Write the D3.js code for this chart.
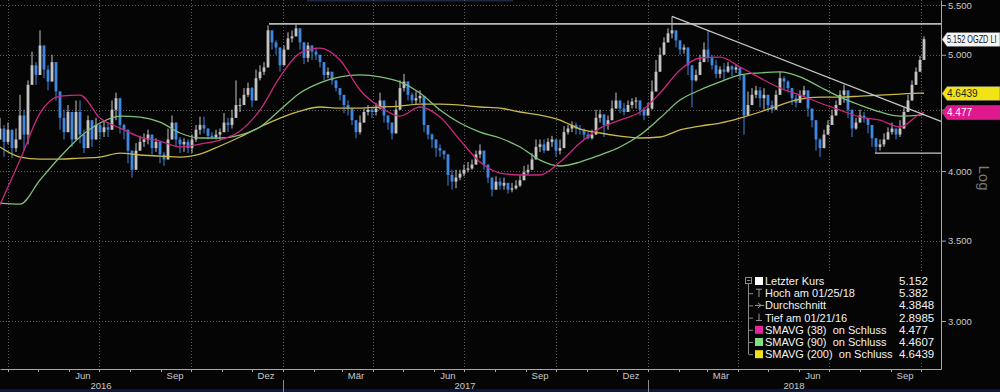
<!DOCTYPE html>
<html><head><meta charset="utf-8">
<script src="https://cdn.jsdelivr.net/npm/d3@7"></script>
<style>html,body{margin:0;padding:0;background:#050505;overflow:hidden}</style>
</head><body><svg id="c" width="1000" height="392"></svg>
<script>
// ---------------- DATA ----------------
const candleStart = "2016-03-24";
const candleStepDays = 4;
const firstOpen = 4.25;
const closeValues = [
4.34,4.23,4.33,4.18,4.25,4.45,4.29,4.72,4.90,4.81,5.09,4.86,4.75,4.93,4.66,4.43,4.31,4.48,4.25,4.48,4.29,4.18,4.41,4.25,4.37,4.31,4.35,4.33,4.50,4.60,4.37,4.33,4.16,4.01,4.16,4.23,4.25,4.29,4.18,4.23,4.13,4.09,4.25,4.39,4.25,4.21,4.23,4.18,
4.25,4.33,4.37,4.34,4.28,4.27,4.29,4.31,4.39,4.37,4.43,4.54,4.54,4.63,4.69,4.58,4.78,4.84,4.88,5.24,5.12,5.07,4.90,5.05,5.16,5.18,5.26,5.12,4.97,5.09,5.03,5.00,4.93,4.81,4.84,4.76,4.69,4.63,4.54,4.51,4.41,4.31,4.39,4.48,4.50,4.48,4.51,
4.58,4.45,4.39,4.30,4.50,4.69,4.75,4.63,4.58,4.60,4.62,4.37,4.29,4.25,4.18,4.16,4.13,3.97,3.92,3.95,3.98,4.01,4.02,4.05,4.13,4.16,4.05,3.95,3.86,3.92,3.89,3.91,3.86,3.87,3.89,3.93,3.99,4.01,4.09,4.19,4.21,4.16,4.23,4.25,4.16,4.18,4.31,4.34,
4.37,4.34,4.33,4.29,4.26,4.29,4.43,4.46,4.37,4.41,4.51,4.58,4.51,4.48,4.54,4.57,4.58,4.50,4.45,4.51,4.66,4.84,5.00,5.12,5.21,5.24,5.14,5.05,5.07,4.90,4.76,4.81,4.93,5.05,4.97,4.90,4.82,4.86,4.84,4.89,4.86,4.88,4.81,4.45,4.54,4.63,4.67,
4.60,4.63,4.54,4.50,4.63,4.78,4.75,4.69,4.60,4.56,4.63,4.67,4.51,4.41,4.25,4.18,4.29,4.37,4.45,4.54,4.63,4.67,4.50,4.34,4.39,4.45,4.43,4.37,4.26,4.19,4.21,4.25,4.31,4.34,4.29,4.34,4.48,4.58,4.72,4.84,4.95,5.152
];
const highValues = [
4.43,4.37,4.39,4.31,4.34,4.63,4.50,4.76,5.03,4.93,5.24,5.05,4.90,5.00,4.76,4.61,4.50,4.54,4.37,4.58,4.58,4.33,4.45,4.37,4.43,4.39,4.41,4.39,4.58,4.65,4.43,4.38,4.25,4.13,4.22,4.28,4.30,4.33,4.25,4.26,4.20,4.15,4.34,4.45,4.33,4.27,4.26,4.25,
4.29,4.37,4.44,4.44,4.33,4.31,4.33,4.34,4.47,4.43,4.50,4.76,4.60,4.69,4.74,4.70,4.86,4.90,4.93,5.29,5.19,5.14,5.07,5.09,5.22,5.24,5.30,5.22,5.07,5.12,5.07,5.07,5.00,4.90,4.88,4.81,4.76,4.67,4.63,4.58,4.50,4.41,4.45,4.51,4.54,4.52,4.56,
4.65,4.54,4.45,4.39,4.58,4.76,4.82,4.69,4.65,4.66,4.67,4.54,4.36,4.30,4.23,4.21,4.16,4.07,4.01,4.01,4.01,4.05,4.07,4.09,4.16,4.21,4.09,3.99,3.95,3.96,3.95,3.95,3.91,3.91,3.93,3.97,4.04,4.05,4.14,4.25,4.25,4.25,4.26,4.28,4.23,4.25,4.36,4.37,
4.40,4.39,4.37,4.34,4.31,4.33,4.50,4.50,4.45,4.45,4.58,4.65,4.57,4.56,4.58,4.60,4.61,4.56,4.52,4.56,4.76,4.95,5.07,5.17,5.26,5.38,5.21,5.14,5.10,4.97,4.83,4.86,5.00,5.12,5.24,5.00,4.95,4.89,4.92,4.93,4.90,4.91,4.86,4.79,4.66,4.69,4.71,
4.70,4.69,4.61,4.58,4.67,4.84,4.80,4.76,4.67,4.63,4.67,4.71,4.58,4.50,4.35,4.26,4.33,4.41,4.50,4.58,4.67,4.72,4.58,4.41,4.43,4.50,4.48,4.41,4.33,4.25,4.25,4.30,4.35,4.39,4.33,4.41,4.52,4.63,4.76,4.88,4.99,5.18
];
const lowValues = [
4.25,4.11,4.21,4.10,4.15,4.37,4.16,4.21,4.72,4.72,4.88,4.78,4.67,4.76,4.58,4.33,4.25,4.37,4.19,4.37,4.22,4.14,4.29,4.19,4.29,4.25,4.27,4.27,4.33,4.41,4.30,4.25,4.06,3.95,4.05,4.16,4.19,4.21,4.13,4.15,4.06,4.04,4.10,4.29,4.19,4.14,4.15,4.14,
4.14,4.23,4.29,4.30,4.25,4.25,4.25,4.25,4.33,4.31,4.34,4.45,4.48,4.54,4.61,4.52,4.72,4.76,4.81,5.00,5.05,5.00,4.84,4.97,5.09,5.12,5.19,5.05,4.91,4.93,4.95,4.95,4.88,4.76,4.78,4.72,4.66,4.58,4.47,4.45,4.37,4.26,4.29,4.41,4.45,4.43,4.45,
4.50,4.39,4.33,4.25,4.34,4.61,4.66,4.58,4.54,4.55,4.56,4.31,4.25,4.18,4.11,4.11,4.09,3.89,3.86,3.87,3.93,3.96,3.99,4.01,4.06,4.10,4.01,3.91,3.81,3.86,3.86,3.86,3.83,3.84,3.86,3.88,3.95,3.97,4.02,4.13,4.15,4.14,4.18,4.19,4.11,4.13,4.25,4.29,
4.31,4.29,4.29,4.25,4.25,4.25,4.34,4.39,4.27,4.33,4.45,4.52,4.47,4.45,4.48,4.51,4.51,4.45,4.41,4.48,4.50,4.72,4.93,5.07,5.16,5.16,5.07,5.00,5.01,4.81,4.52,4.75,4.88,4.98,4.93,4.86,4.78,4.78,4.76,4.83,4.80,4.83,4.76,4.29,4.45,4.58,4.60,
4.52,4.50,4.48,4.47,4.54,4.70,4.67,4.65,4.54,4.52,4.58,4.61,4.44,4.35,4.16,4.11,4.22,4.30,4.41,4.47,4.58,4.56,4.43,4.27,4.33,4.39,4.39,4.30,4.19,4.14,4.16,4.19,4.25,4.29,4.25,4.27,4.41,4.50,4.61,4.76,4.89,4.97
];

const maStepDays = 20;
const maLastDay = 924;
const sma38 = [3.75,4.085,4.471,4.619,4.628,4.428,4.344,4.270,4.237,4.189,4.213,4.245,4.319,4.497,4.792,5.016,5.065,4.950,4.673,4.523,4.445,4.523,4.437,4.245,4.070,3.985,3.970,3.970,4.070,4.221,4.344,4.411,4.480,4.646,4.856,4.969,4.978,4.884,4.783,4.691,4.628,4.558,4.497,4.437,4.411,4.353,4.463,4.477];
const sma90 = [3.762,3.754,3.932,4.109,4.270,4.386,4.445,4.437,4.394,4.303,4.262,4.262,4.286,4.353,4.497,4.646,4.737,4.792,4.810,4.792,4.746,4.646,4.497,4.386,4.311,4.262,4.189,4.085,4.039,4.070,4.125,4.189,4.286,4.428,4.584,4.673,4.746,4.810,4.829,4.838,4.792,4.700,4.610,4.540,4.480,4.445,4.454,4.4607];
const sma200 = [4.189,4.109,4.093,4.093,4.101,4.109,4.140,4.125,4.117,4.109,4.133,4.197,4.270,4.353,4.428,4.488,4.523,4.514,4.514,4.523,4.531,4.549,4.549,4.540,4.523,4.514,4.480,4.454,4.411,4.336,4.303,4.278,4.262,4.270,4.328,4.361,4.386,4.428,4.480,4.540,4.593,4.610,4.610,4.619,4.628,4.637,4.646,4.6439];

const yTicks = [3.0, 3.5, 4.0, 4.5, 5.0, 5.5];
const yTickLabels = ["3.000", "3.500", "4.000", "", "5.000", "5.500"]; // 4.500 is hidden behind the tags
const monthLabels = [["2016-06-15","Jun"],["2016-09-15","Sep"],["2016-12-15","Dez"],["2017-03-15","Mär"],["2017-06-15","Jun"],["2017-09-15","Sep"],["2017-12-15","Dez"],["2018-03-15","Mär"],["2018-06-15","Jun"],["2018-09-15","Sep"]];
const yearLabels = [["2016-07-03","2016"],["2017-07-02","2017"],["2018-05-27","2018"]];
const yearBreaks = ["2017-01-01","2018-01-01"];
const resistanceLine = [["2016-12-18",5.305],["2018-10-21",5.305]];
const downTrendLine = [["2018-01-25",5.382],["2018-10-21",4.40]];
const supportLine = [["2018-08-16",4.14],["2018-10-21",4.14]];
const legendLabels = ["Letzter Kurs","Hoch am 01/25/18","Durchschnitt","Tief am 01/21/16","SMAVG (38)  on Schluss","SMAVG (90)  on Schluss","SMAVG (200)  on Schluss"];
const legendValues = ["5.152","5.382","4.3848","2.8985","4.477","4.4607","4.6439"];
const lastLabel = "5.152 OGZD LI";
const lastValue = 5.152;
const sma200Last = 4.6439, sma38Last = 4.477;

// ---------------- CHART ----------------
const svg = d3.select("#c");
const W = 1000, H = 392, plotR = 941, plotB = 369;
const FONT = "Liberation Sans, Arial, sans-serif";
const parse = d3.utcParse("%Y-%m-%d");
const x = d3.scaleUtc().domain([parse("2016-03-24"), parse("2018-10-21")]).range([0, plotR]);
const y = d3.scaleLog().domain([2.736, 5.554]).range([plotB, 0]);

svg.append("rect").attr("width", W).attr("height", H).attr("fill", "#050505");
svg.append("rect").attr("x", 0).attr("y", 389).attr("width", W).attr("height", 3).attr("fill", "#10163a");
svg.append("rect").attr("x", 307).attr("y", 0).attr("width", 206).attr("height", 1.5).attr("fill", "#1e2640");

const defs = svg.append("defs");
defs.append("clipPath").attr("id", "clip").append("rect").attr("width", plotR).attr("height", plotB);

// grid
const grid = svg.append("g").attr("stroke", "#5c5c5c").attr("stroke-width", 1).attr("stroke-dasharray", "1,2");
grid.selectAll("line.h").data(yTicks).join("line")
  .attr("x1", 0).attr("x2", plotR).attr("y1", d => Math.round(y(d)) + 0.5).attr("y2", d => Math.round(y(d)) + 0.5);
grid.selectAll("line.v").data(d3.utcMonth.every(3).range(x.domain()[0], x.domain()[1])).join("line")
  .attr("y1", 0).attr("y2", plotB).attr("x1", d => Math.round(x(d)) + 0.5).attr("x2", d => Math.round(x(d)) + 0.5);

// candles
const start = parse(candleStart);
const candles = closeValues.map((c, i) => {
  const o = i === 0 ? firstOpen : closeValues[i - 1];
  return { date: d3.utcDay.offset(start, i * candleStepDays), o, c,
           h: Math.max(highValues[i], o, c), l: Math.min(lowValues[i], o, c) };
});
const upCol = "#c4c4c4", downCol = "#3f87e0";
const cg = svg.append("g").attr("clip-path", "url(#clip)");
const cs = cg.selectAll("g").data(candles).join("g");
cs.append("line").attr("x1", d => x(d.date)).attr("x2", d => x(d.date))
  .attr("y1", d => y(d.h)).attr("y2", d => y(d.l))
  .attr("stroke", d => d.c >= d.o ? upCol : downCol).attr("stroke-width", 1);
cs.append("rect").attr("x", d => x(d.date) - 1.4).attr("width", 2.8)
  .attr("y", d => y(Math.max(d.o, d.c))).attr("height", d => Math.max(1, Math.abs(y(d.o) - y(d.c))))
  .attr("fill", d => d.c >= d.o ? upCol : downCol);

// moving averages
const maDates = d3.range(0, maLastDay - 3, maStepDays).concat([maLastDay]).map(d => d3.utcDay.offset(start, d));
const line = d3.line().x((d, i) => x(maDates[i])).y(d => y(d)).curve(d3.curveMonotoneX);
const lg = svg.append("g").attr("clip-path", "url(#clip)").attr("fill", "none").attr("stroke-width", 1.3);
lg.append("path").attr("d", line(sma200)).attr("stroke", "#c9b84c");
lg.append("path").attr("d", line(sma90)).attr("stroke", "#7ec27a");
lg.append("path").attr("d", line(sma38)).attr("stroke", "#c8287f");

// trend lines
const tl = d3.line().x(d => x(parse(d[0]))).y(d => y(d[1]));
const tg = svg.append("g").attr("fill", "none");
tg.append("path").attr("d", tl(resistanceLine)).attr("stroke", "#b8b8b8").attr("stroke-width", 1.8);
tg.append("path").attr("d", tl(downTrendLine)).attr("stroke", "#c8c8c8").attr("stroke-width", 1.2);
tg.append("path").attr("d", tl(supportLine)).attr("stroke", "#c8c8c8").attr("stroke-width", 1.2);

// x axis
const xa = svg.append("g").attr("transform", `translate(0,${plotB})`)
  .call(d3.axisBottom(x).ticks(d3.utcMonth.every(1)).tickSize(3).tickSizeOuter(0).tickFormat(""));
xa.select(".domain").attr("stroke", "#a8a8a8");
xa.selectAll(".tick line").attr("stroke", "#a8a8a8");
svg.append("g").selectAll("text").data(monthLabels).join("text")
  .attr("x", d => x(parse(d[0]))).attr("y", 379).attr("text-anchor", "middle")
  .attr("font-family", FONT).attr("font-size", 9.5).attr("fill", "#c8c8c8").text(d => d[1]);
svg.append("g").selectAll("text").data(yearLabels).join("text")
  .attr("x", d => x(parse(d[0]))).attr("y", 389).attr("text-anchor", "middle")
  .attr("font-family", FONT).attr("font-size", 9.5).attr("fill", "#c8c8c8").text(d => d[1]);
svg.append("g").selectAll("line").data(yearBreaks).join("line")
  .attr("x1", d => Math.round(x(parse(d))) + 0.5).attr("x2", d => Math.round(x(parse(d))) + 0.5)
  .attr("y1", 380).attr("y2", 392).attr("stroke", "#8a8a8a");

// y axis
const ya = svg.append("g").attr("transform", `translate(${plotR},0)`)
  .call(d3.axisRight(y).tickValues(yTicks).tickFormat((d, i) => yTickLabels[i]).tickSize(5).tickPadding(2).tickSizeOuter(0));
ya.select(".domain").attr("stroke", "#a8a8a8");
ya.selectAll(".tick line").attr("stroke", "#a8a8a8");
ya.selectAll(".tick text").attr("fill", "#c8c8c8").attr("font-size", 9.5).attr("font-family", FONT);
svg.append("text").attr("transform", "translate(979,178) rotate(90)").attr("text-anchor", "middle")
  .attr("font-family", FONT).attr("font-size", 15).attr("fill", "#7a7a7a").text("Log");

// price tags
function tag(v, label, fill, textFill, sx) {
  const cy = Math.round(y(v)) + 0.5, x0 = 942, hh = 7;
  const g = svg.append("g");
  g.append("path").attr("d", `M${x0},${cy} L${x0 + 5},${cy - hh} L${W},${cy - hh} L${W},${cy + hh} L${x0 + 5},${cy + hh} Z`)
    .attr("fill", fill).attr("stroke", "#666").attr("stroke-width", 0.6);
  g.append("text").attr("transform", `translate(${x0 + 5},${cy + 3.5}) scale(${sx || 1},1)`).attr("font-family", FONT)
    .attr("font-size", 10).attr("fill", textFill).text(label);
}
tag(lastValue, lastLabel, "#f4f4f4", "#111", 0.73);
tag(sma200Last, d3.format(".4f")(sma200Last), "#f2e414", "#222");
tag(sma38Last, d3.format(".3f")(sma38Last), "#e0188e", "#fff");

// legend
const legG = svg.append("g").attr("font-family", FONT).attr("font-size", 11);
legG.append("rect").attr("x", 744).attr("y", 271).attr("width", 196).attr("height", 92).attr("fill", "#050505");
const rowY = legendLabels.map((d, i) => 281 + i * 12.2);
legG.append("line").attr("x1", 748.5).attr("x2", 748.5).attr("y1", 284).attr("y2", rowY[6]).attr("stroke", "#8a8a8a");
legG.selectAll("line.stub").data(rowY.slice(1)).join("line").attr("x1", 748.5).attr("x2", 753).attr("y1", d => d + 0.5).attr("y2", d => d + 0.5).attr("stroke", "#8a8a8a");
legG.append("rect").attr("x", 745.5).attr("y", 277.5).attr("width", 6).attr("height", 6).attr("fill", "none").attr("stroke", "#8a8a8a");
legG.append("line").attr("x1", 747).attr("x2", 750.5).attr("y1", 280.5).attr("y2", 280.5).attr("stroke", "#8a8a8a");
const sqCols = ["#ffffff", null, null, null, "#e4279b", "#7ee07e", "#f0e020"];
sqCols.forEach((c, i) => { if (c) legG.append("rect").attr("x", 755).attr("y", rowY[i] - 4).attr("width", 8).attr("height", 8).attr("fill", c); });
const ic = legG.append("g").attr("stroke", "#9a9a9a").attr("stroke-width", 1);
ic.append("line").attr("x1", 756).attr("x2", 762).attr("y1", rowY[1] - 4).attr("y2", rowY[1] - 4);
ic.append("line").attr("x1", 759).attr("x2", 759).attr("y1", rowY[1] - 4).attr("y2", rowY[1] + 4);
ic.append("line").attr("x1", 755).attr("x2", 764).attr("y1", rowY[2]).attr("y2", rowY[2]);
ic.append("path").attr("d", `M758,${rowY[2] - 2.5} L761,${rowY[2]} L758,${rowY[2] + 2.5}`).attr("fill", "none");
ic.append("line").attr("x1", 759).attr("x2", 759).attr("y1", rowY[3] - 4).attr("y2", rowY[3] + 3);
ic.append("line").attr("x1", 756).attr("x2", 762).attr("y1", rowY[3] + 3).attr("y2", rowY[3] + 3);
legG.selectAll("text.l").data(legendLabels).join("text").attr("x", 765).attr("y", (d, i) => rowY[i] + 4)
  .attr("fill", "#f2f2f2").style("white-space", "pre").text(d => d);
legG.selectAll("text.v").data(legendValues).join("text").attr("x", 899).attr("y", (d, i) => rowY[i] + 4)
  .attr("fill", "#f2f2f2").attr("font-size", 11.5).text(d => d);
</script></body></html>
